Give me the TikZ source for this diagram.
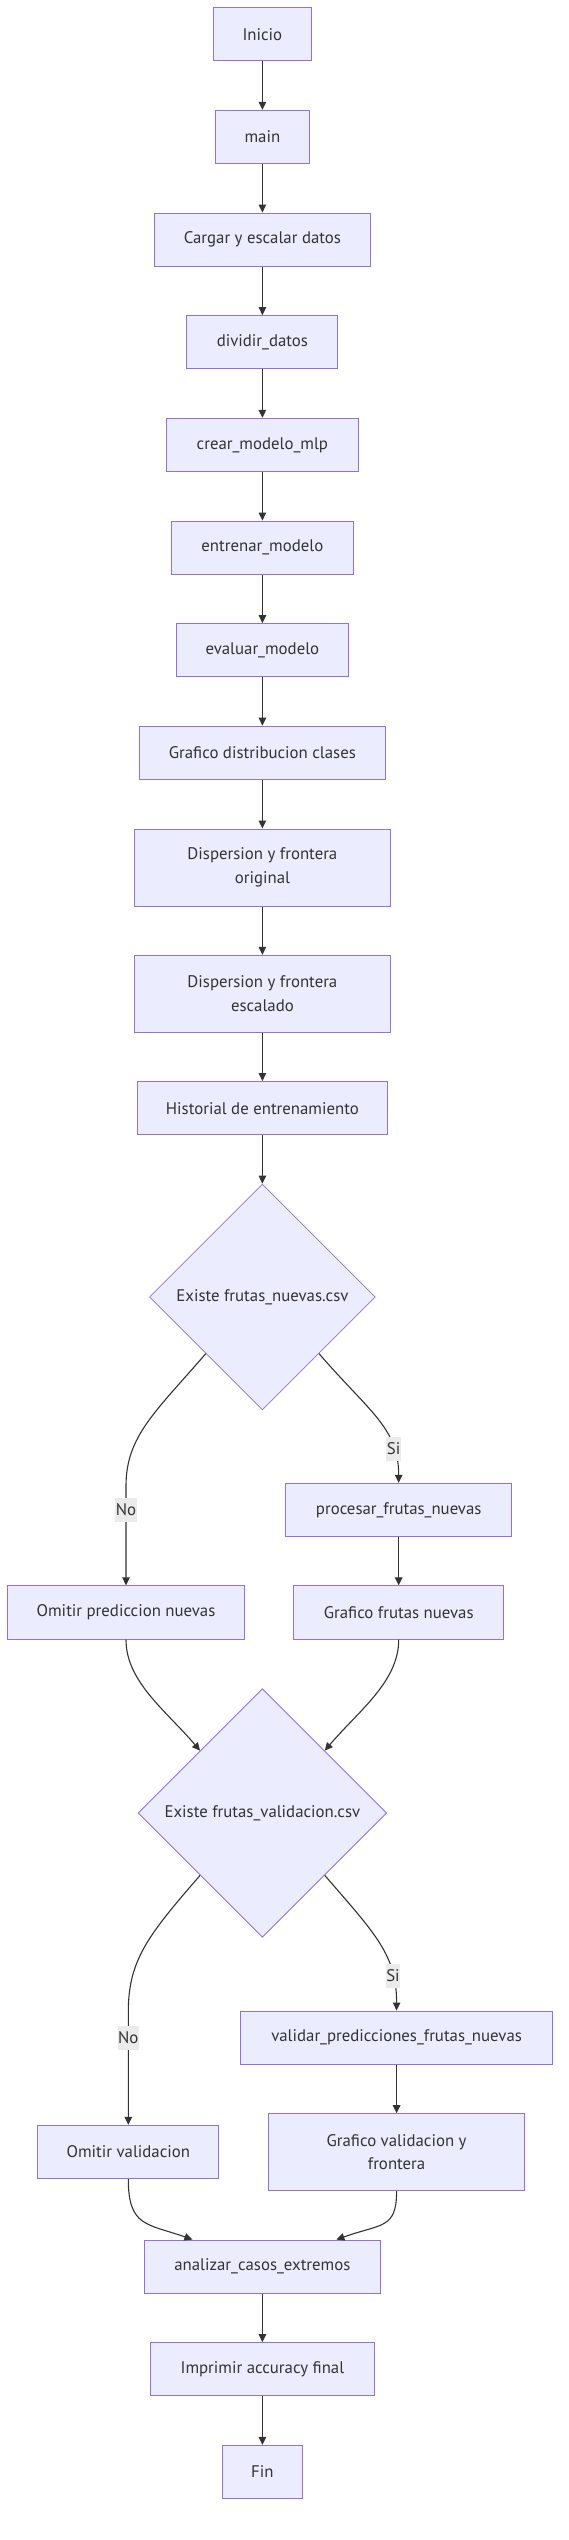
\documentclass[tikz,border=0pt]{standalone}
\usepackage{fontspec}
\setmainfont{PT Sans}
\usetikzlibrary{arrows.meta,shapes.geometric}
\definecolor{nodefill}{HTML}{ECECFF}
\definecolor{nodeline}{HTML}{9370DB}
\definecolor{edgecol}{HTML}{333333}
\definecolor{lblbg}{HTML}{EBEBEB}
\begin{document}
\begin{tikzpicture}[x=1pt,y=-1pt,
  box/.style={draw=nodeline, fill=nodefill, line width=1pt, text=edgecol,
    font=\fontsize{16.8}{23.5}\selectfont, inner sep=0pt, minimum height=53.3pt, align=center},
  tallbox/.style={box, minimum height=77pt},
  dec/.style={diamond, draw=nodeline, fill=nodefill, line width=0.8pt, text=edgecol,
    font=\fontsize{16.8}{23.5}\selectfont, inner sep=0pt, aspect=1},
  arr/.style={draw=edgecol, line width=1.1pt, -{Triangle[length=8pt,width=7.5pt]}},
  lbl/.style={fill=lblbg, text=edgecol, font=\fontsize{16.8}{16.8}\selectfont,
    inner xsep=0.5pt, inner ysep=0pt, minimum height=23.5pt}]
\useasboundingbox[fill=white] (0,0) rectangle (568,2540);

% main column
\node[box, minimum width=97.5pt] (inicio) at (262.4,34.3) {Inicio};
\node[box, minimum width=94pt] (main) at (262.4,137) {main};
\node[box, minimum width=216pt] (cargar) at (262.4,239.7) {Cargar y escalar datos};
\node[box, minimum width=151pt] (dividir) at (262.4,342.3) {dividir\_datos};
\node[box, minimum width=192pt] (crear) at (262.4,445) {crear\_modelo\_mlp};
\node[box, minimum width=181.7pt] (entrenar) at (262.4,547.7) {entrenar\_modelo};
\node[box, minimum width=172pt] (evaluar) at (262.4,650.3) {evaluar\_modelo};
\node[box, minimum width=246.3pt] (grafdist) at (262.4,752.8) {Grafico distribucion clases};
\node[tallbox, minimum width=256.7pt] (disporig) at (262.4,867.5) {Dispersion y frontera\\original};
\node[tallbox, minimum width=256.7pt] (dispesc) at (262.4,993.8) {Dispersion y frontera\\escalado};
\node[box, minimum width=250.3pt] (hist) at (262.4,1108.2) {Historial de entrenamiento};

\node[dec, minimum width=225.8pt, minimum height=225.8pt] (d1) at (262.4,1297) {Existe frutas\_nuevas.csv};

\node[box, minimum width=226.5pt] (procesar) at (398.7,1510) {procesar\_frutas\_nuevas};
\node[box, minimum width=237.4pt] (omitpred) at (126,1612.5) {Omitir prediccion nuevas};
\node[box, minimum width=210.5pt] (graffrut) at (398.7,1612.5) {Grafico frutas nuevas};

\node[dec, minimum width=248.6pt, minimum height=248.6pt] (d2) at (262.4,1813) {Existe frutas\_validacion.csv};

\node[box, minimum width=312pt] (validar) at (396.6,2037.7) {validar\_predicciones\_frutas\_nuevas};
\node[box, minimum width=181pt] (omitval) at (128.3,2152) {Omitir validacion};
\node[tallbox, minimum width=256.5pt] (grafval) at (396.6,2152.2) {Grafico validacion y\\frontera};

\node[box, minimum width=235.5pt] (analizar) at (262.4,2266.7) {analizar\_casos\_extremos};
\node[box, minimum width=224pt] (imprimir) at (262.4,2369.3) {Imprimir accuracy final};
\node[box, minimum width=80.8pt] (fin) at (262.4,2472) {Fin};

\coordinate (nob1) at (126,1486);
\coordinate (nob2) at (128.3,2012);

% straight connectors
\draw[arr] (inicio) -- (main);
\draw[arr] (main) -- (cargar);
\draw[arr] (cargar) -- (dividir);
\draw[arr] (dividir) -- (crear);
\draw[arr] (crear) -- (entrenar);
\draw[arr] (entrenar) -- (evaluar);
\draw[arr] (evaluar) -- (grafdist);
\draw[arr] (grafdist) -- (disporig);
\draw[arr] (disporig) -- (dispesc);
\draw[arr] (dispesc) -- (hist);
\draw[arr] (hist) -- (d1);
\draw[arr] (procesar) -- (graffrut);
\draw[arr] (validar) -- (grafval);
\draw[arr] (analizar) -- (imprimir);
\draw[arr] (imprimir) -- (fin);

% first decision
\draw[arr] (d1.south west) .. controls +(-50,58) and +(0,-50) .. (nob1)
  -- (omitpred.north) node[lbl, pos=0.24] {No};
\draw[arr] (d1.south east) .. controls +(50,58) and +(0,-55) .. (procesar.north)
  node[lbl, pos=0.76] {Si};

% into second decision
\draw[arr] (omitpred.south) .. controls +(0,42) and +(-34,-40) .. (d2.north west);
\draw[arr] (graffrut.south) .. controls +(0,42) and +(34,-40) .. (d2.north east);

% second decision
\draw[arr] (d2.south west) .. controls +(-52,60) and +(0,-52) .. (nob2)
  -- (omitval.north) node[lbl, pos=0.23] {No};
\draw[arr] (d2.south east) .. controls +(52,60) and +(0,-55) .. (validar.north)
  node[lbl, pos=0.76] {Si};

% into analizar
\draw[arr] (omitval.south) .. controls +(0,48) and +(-45,-16) .. ([xshift=-70pt]analizar.north);
\draw[arr] (grafval.south) .. controls +(0,38) and +(45,-16) .. ([xshift=74pt]analizar.north);
\end{tikzpicture}
\end{document}
